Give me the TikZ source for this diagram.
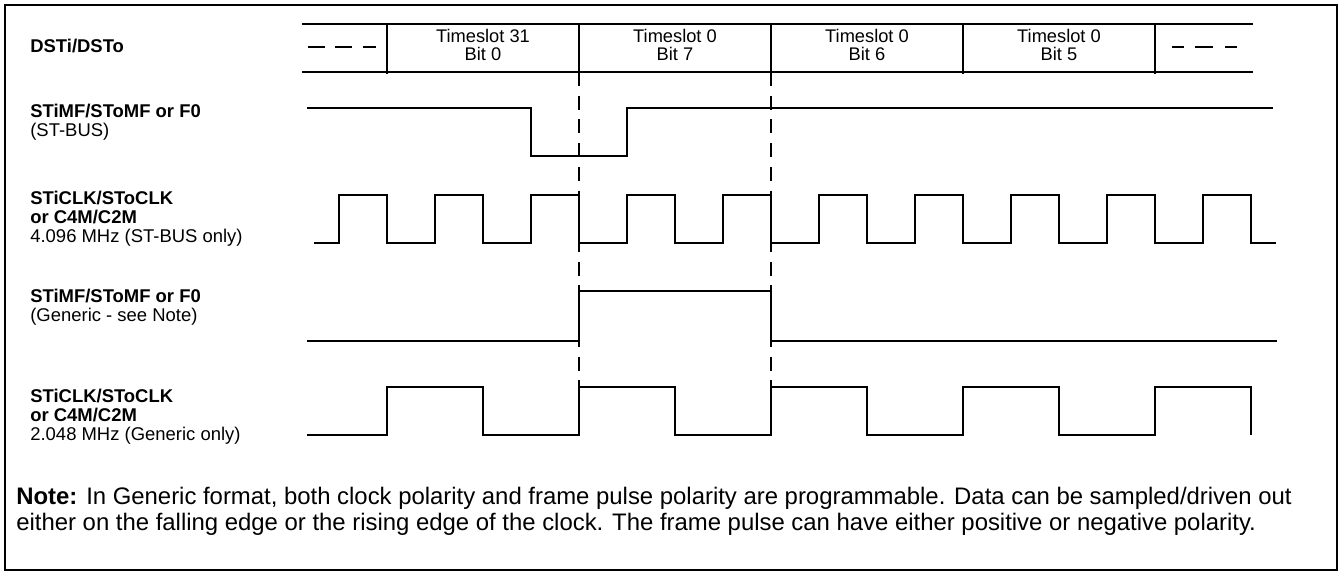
\documentclass[tikz,border=0pt]{standalone}
\usepackage{fontspec}
\setmainfont{Liberation Sans}

\begin{document}
\begin{tikzpicture}[
    x=0.02cm, y=-0.02cm,
    sig line/.style={line width=1.6pt, line join=miter},
    box line/.style={line width=1.1pt},
    slot line/.style={line width=1.4pt},
    ref line/.style={line width=1.1pt, dash pattern=on 8pt off 5.5pt},
    sig label/.style={anchor=north west, align=left, inner sep=0pt,
        font=\fontsize{10.5}{10.8}\selectfont},
    slot label/.style={anchor=north, align=center, inner sep=0pt,
        font=\fontsize{10.4}{10.25}\selectfont},
]

% ---- layout parameters (pixels) ----
\def\xA{387}        % first timeslot boundary
\def\W{192}         % bit width
\def\yTop{24}       % data row top
\def\yBot{72}       % data row bottom

\useasboundingbox (0,0) rectangle (1340,573);

% ---- outer frame ----
\draw[box line] (5,5) rectangle (1337,570);

% ---- signal names ----
\node[sig label, font=\fontsize{10.5}{10.8}\selectfont\bfseries] (lblData) at (30,38.5) {DSTi/DSTo};
\node[sig label] (lblStFrame) at (30,104) {\textbf{STiMF/SToMF or F0}\\(ST-BUS)};
\node[sig label] (lblStClk) at (30,190.5) {\textbf{STiCLK/SToCLK}\\\textbf{or C4M/C2M}\\4.096 MHz (ST-BUS only)};
\node[sig label] (lblGenFrame) at (30,288.5) {\textbf{STiMF/SToMF or F0}\\(Generic - see Note)};
\node[sig label] (lblGenClk) at (30,388.5) {\textbf{STiCLK/SToCLK}\\\textbf{or C4M/C2M}\\2.048 MHz (Generic only)};

% ======== DSTi/DSTo data row ========
\draw[box line] (302,\yTop) -- (1253,\yTop);
\draw[box line] (302,\yBot) -- (1253,\yBot);
\foreach \k in {0,...,4} {
    \draw[slot line] ({\xA+\k*\W},\yTop) -- ({\xA+\k*\W},\yBot+2);
}
% don't-care dashes at both ends
\foreach \a/\b in {308/325, 335/352, 363/376, 1172/1184, 1195/1213, 1225/1237} {
    \draw[sig line] (\a,47) -- (\b,47);
}
% timeslot labels
\foreach \k/\ts/\bit [count=\n] in {0/31/0, 1/0/7, 2/0/6, 3/0/5} {
    \node[slot label] (ts\n) at ({\xA+\W/2+\k*\W},28.5) {Timeslot \ts\\Bit \bit};
}

% ---- frame boundary reference lines ----
\foreach \k in {1,2} {
    \draw[ref line] ({\xA+\k*\W},\yBot) -- ({\xA+\k*\W},388);
}

% ======== ST-BUS frame pulse ========
\draw[sig line] (307,108) -- ({\xA+\W-\W/4},108) -- ({\xA+\W-\W/4},156)
    -- ({\xA+\W+\W/4},156) -- ({\xA+\W+\W/4},108) -- (1273,108);

% ======== 4.096 MHz clock ========
\draw[sig line] (314,243)
    \foreach \k in {0,...,9} {
        -- ({\xA-\W/4+\k*\W/2},243) -- ({\xA-\W/4+\k*\W/2},195)
        -- ({\xA+\k*\W/2},195) -- ({\xA+\k*\W/2},243)
    } -- (1276,243);

% ======== Generic frame pulse ========
\draw[sig line] (307,341) -- ({\xA+\W},341) -- ({\xA+\W},291)
    -- ({\xA+2*\W},291) -- ({\xA+2*\W},341) -- (1277,341);

% ======== 2.048 MHz clock ========
\draw[sig line] (307,435)
    \foreach \k in {0,...,4} {
        -- ({\xA+\k*\W},435) -- ({\xA+\k*\W},387)
        -- ({\xA+\W/2+\k*\W},387) -- ({\xA+\W/2+\k*\W},435)
    };

% ---- note ----
\node[anchor=north west, align=left, inner sep=0pt,
    font=\fontsize{13.6}{14.8}\selectfont] (noteText) at (16,487)
    {\textbf{Note:} In Generic format, both clock polarity and frame pulse polarity are programmable. Data can be sampled/driven out\\
     either on the falling edge or the rising edge of the clock. The frame pulse can have either positive or negative polarity.};

\end{tikzpicture}
\end{document}
